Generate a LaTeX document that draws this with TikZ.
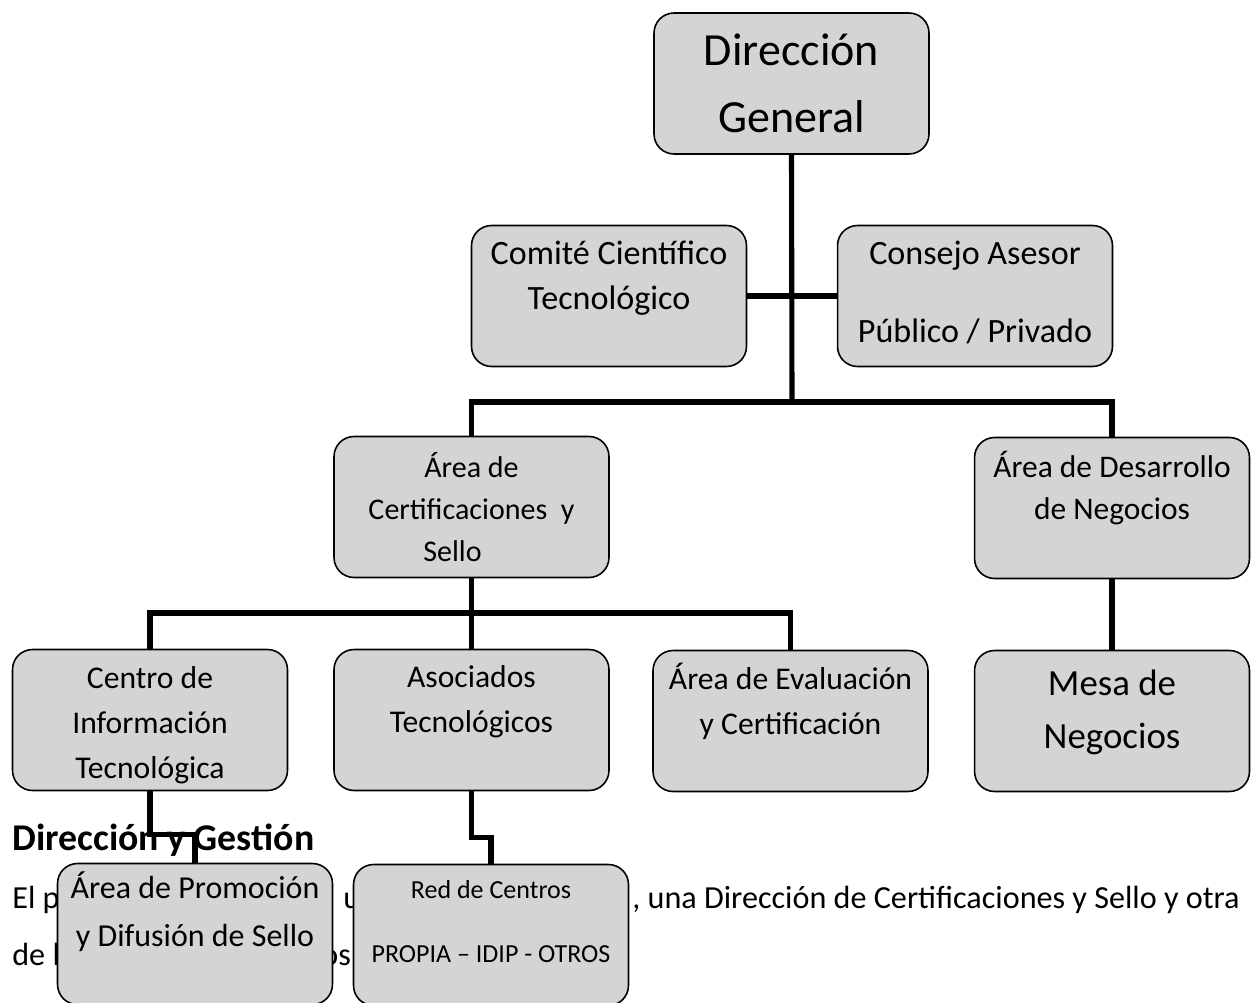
\documentclass[tikz,border=0pt]{standalone}
\usepackage{fontspec}
\setmainfont{Carlito}
\newlength{\pxu}\setlength{\pxu}{0.02cm}
% extra room under the last line / over the first line of a box
\newcommand{\padbelow}[1]{\rule[-#1\pxu]{0pt}{#1\pxu}}
\newcommand{\padabove}[1]{\rule{0pt}{#1\pxu}}
\pgfdeclarelayer{paper}
\pgfdeclarelayer{links}
\pgfsetlayers{paper,links,main}
\tikzset{
    unit/.style={
        rectangle, rounded corners=0.4cm, draw=black, line width=0.9pt,
        minimum width=5.5cm, minimum height=2.82cm,
        fill=black!17, inner sep=0pt, align=center
    },
    wire/.style={draw=black, line width=2.9pt},
    prose/.style={inner sep=0pt, anchor=base west, font=\fontsize{18.3}{22}\selectfont}
}

\begin{document}
\begin{tikzpicture}[x=0.02cm, y=-0.02cm]
\useasboundingbox (0,0) rectangle (1260,1003);
\clip (0,0) rectangle (1260,1003);

% page text behind the chart
\begin{pgfonlayer}{paper}
\node[prose, font=\fontsize{21.5}{26}\selectfont\bfseries] (head) at (12,850) {Dirección y Gestión};
\node[prose] (p1) at (12,908) {El p};
\node[prose] (p2) at (343,908) {u};
\node[prose] (p3) at (632,908) {, una Dirección de Certificaciones y Sello y otra};
\node[prose] (p4) at (12,965) {de l};
\node[prose] (p5) at (321,965) {os};
\end{pgfonlayer}

% top
\node[unit, font=\fontsize{26.2}{38.1}\selectfont] (dg) at (791.5,83.5) {Dirección\\General};
\node[unit, font=\fontsize{19.4}{25.6}\selectfont] (cct) at (609,296) {Comité Científico\\Tecnológico\padbelow{42}};
\node[unit, font=\fontsize{19.4}{25.6}\selectfont] (cap) at (975,296) {Consejo Asesor\\[18.8pt]Público / Privado\padbelow{9}};

% areas
\node[unit, font=\fontsize{17.1}{23.9}\selectfont] (acs) at (471.5,507) {Área de\\Certificaciones~ y\\Sello\kern38\pxu};
\node[unit, font=\fontsize{17.9}{23.9}\selectfont] (adn) at (1112,508) {Área de Desarrollo\\de Negocios\padbelow{45}};

% units
\node[unit, font=\fontsize{18}{25.6}\selectfont] (cit) at (150,720) {\padabove{33}Centro de\\Información\\Tecnológica};
\node[unit, font=\fontsize{18}{25.6}\selectfont] (ast) at (471.5,720) {Asociados\\Tecnológicos\padbelow{41}};
\node[unit, font=\fontsize{18}{25.6}\selectfont] (aec) at (790.5,721) {Área de Evaluación\\y Certificación\padbelow{45}};
\node[unit, font=\fontsize{21}{30.2}\selectfont] (mdn) at (1112,721) {Mesa de\\Negocios\padbelow{23}};

% bottom
\node[unit, font=\fontsize{18.2}{27.3}\selectfont] (apd) at (195,934) {Área de Promoción\\y Difusión de Sello\padbelow{49}};
\node[unit, font=\fontsize{14.8}{18.2}\selectfont] (rdc) at (491,935) {Red de Centros\\[18.2pt]PROPIA – IDIP - OTROS\padbelow{28}};

\coordinate (top) at (792,402);
\coordinate (mid) at (471.5,613);

\begin{pgfonlayer}{links}
\draw[wire] (dg.south) -- (top);
\draw[wire] (cct.east) -- (cap.west);
\draw[wire] (acs.north) |- (top) -| (adn.north);
\draw[wire] (acs.south) -- (ast.north);
\draw[wire] (cit.north) |- (mid) -| (aec.north);
\draw[wire] (adn.south) -- (mdn.north);
\draw[wire] (cit.south) -- ++(0,43) -| (apd.north);
\draw[wire] (ast.south) -- ++(0,46) -| (rdc.north);
\end{pgfonlayer}

\end{tikzpicture}
\end{document}
